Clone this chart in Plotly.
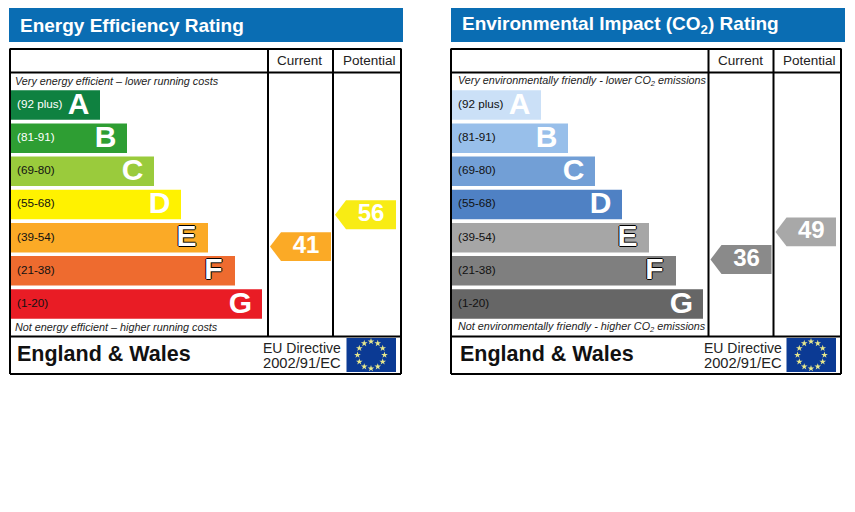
import math
import plotly.graph_objects as go

bands = ["A", "B", "C", "D", "E", "F", "G"]
ranges = ["(92 plus)", "(81-91)", "(69-80)", "(55-68)", "(39-54)", "(21-38)", "(1-20)"]
bar_lengths = [89, 116, 143, 170, 197, 224, 251]

energy_colors = ["#0f8140", "#2e9e33", "#9acb3c", "#fff200", "#fbaa26", "#ee6b2f", "#e91c25"]
energy_label_colors = ["white", "white", "#111", "#111", "#111", "#111", "#111"]
energy_current = 41
energy_potential = 56
energy_current_color = "#fbaa26"
energy_potential_color = "#f8ec14"

env_colors = ["#cbe0f7", "#98bfea", "#729fd6", "#4f81c4", "#a6a6a6", "#7f7f7f", "#666666"]
env_label_colors = ["#111"] * 7
env_current = 36
env_potential = 49
env_current_color = "#8a8a8a"
env_potential_color = "#a8a8a8"

FONT = "Liberation Sans"
fig = go.Figure()
shapes = []
notes = []


def note(x, y, text, size, color="black", anchor="left", bold=False, italic=False):
    if bold:
        text = "<b>" + text + "</b>"
    if italic:
        text = "<i>" + text + "</i>"
    notes.append(dict(x=x, y=y, xref="x", yref="y", text=text, showarrow=False, xanchor=anchor,
                      yanchor="middle", font=dict(family=FONT, size=size, color=color)))


def arrow(col_left, col_right, rating, color, axis):
    tip = col_left + 2
    head = tip + 11
    h = 6.8
    fig.add_trace(go.Scatter(x=[tip, head, col_right, col_right, head, tip],
                             y=[rating, rating + h, rating + h, rating - h, rating - h, rating],
                             yaxis=axis, mode="lines", fill="toself", fillcolor=color,
                             line=dict(width=0), showlegend=False, hoverinfo="skip"))
    fig.add_trace(go.Scatter(x=[(head + col_right) / 2], y=[rating], yaxis=axis, mode="text",
                             text=[str(rating)], textposition="middle center", showlegend=False,
                             textfont=dict(family=FONT, size=24, color="white", weight="bold"),
                             hoverinfo="skip"))


def panel(left, right, col1, col2, banner_left, inset, title, top_note, bottom_note, colors, label_colors,
          current, potential, current_color, potential_color, axis):
    # banner
    shapes.append(dict(type="rect", x0=banner_left, x1=banner_left + 394, y0=8, y1=42,
                       fillcolor="#0a6db3", line_width=0, layer="below"))
    note(banner_left + 9, 25, title, 19, "white", bold=True)

    # table lines
    line = dict(color="black", width=2)
    for x in [left, right]:
        shapes.append(dict(type="line", x0=x, x1=x, y0=48.5, y1=374, line=line, layer="below"))
    for y in [49, 72.5, 336.5, 374]:
        shapes.append(dict(type="line", x0=left, x1=right, y0=y, y1=y, line=line, layer="below"))
    for x in [col1, col2]:
        shapes.append(dict(type="line", x0=x, x1=x, y0=49, y1=336.5, line=line, layer="below"))

    note(col1 + 31.5, 60, "Current", 13.5, "#222", anchor="center")
    note(col2 + 36, 60, "Potential", 13.5, "#222", anchor="center")
    note(left + inset, 81, top_note, 10.8, "#222", italic=True)
    note(left + inset, 327, bottom_note, 10.8, "#222", italic=True)

    # bands
    ys = [105 + 33.17 * i for i in range(len(bands))]
    fig.add_trace(go.Bar(y=ys, x=bar_lengths, base=left + 1, orientation="h", width=29.5,
                         marker=dict(color=colors, line_width=0), showlegend=False, hoverinfo="skip"))
    fig.add_trace(go.Scatter(x=[left + 7] * 7, y=ys, mode="text", text=ranges,
                             textposition="middle right", showlegend=False, hoverinfo="skip",
                             textfont=dict(family=FONT, size=11.7, color=label_colors)))
    for i, letter in enumerate(bands):
        font = dict(family=FONT, size=30, color="white", weight="bold")
        if letter in ["E", "F"]:
            font["shadow"] = "1px 0 #000, -1px 0 #000, 0 1px #000, 0 -1px #000"
        fig.add_trace(go.Scatter(x=[left + bar_lengths[i] - 20.5], y=[ys[i] + 1], mode="text", text=[letter],
                                 textposition="middle center", textfont=font,
                                 showlegend=False, hoverinfo="skip"))

    # rating arrows
    arrow(col1, col2 - 2, current, current_color, axis)
    arrow(col2, right - 5, potential, potential_color, axis)

    # footer
    note(left + inset + 2, 354, "England & Wales", 21.5, "#111", bold=True)
    note(col1 - 7, 348, "EU Directive", 14, "#222")
    note(col1 - 7, 363, "2002/91/EC", 14.7, "#222")
    flag_left = right - 54.5
    shapes.append(dict(type="rect", x0=flag_left, x1=flag_left + 49.5, y0=338, y1=372,
                       fillcolor="#0b3a94", line_width=0, layer="below"))
    cx = flag_left + 24.5
    star_x = [cx + 13.5 * math.sin(math.radians(30 * k)) for k in range(12)]
    star_y = [355 - 13.5 * math.cos(math.radians(30 * k)) for k in range(12)]
    fig.add_trace(go.Scatter(x=star_x, y=star_y, mode="markers", showlegend=False, hoverinfo="skip",
                             marker=dict(symbol="star", size=5, color="#e8e88c", line_width=0)))


panel(10, 401, 268, 333, 9, 3, "Energy Efficiency Rating",
      "Very energy efficient – lower running costs", "Not energy efficient – higher running costs",
      energy_colors, energy_label_colors, energy_current, energy_potential,
      energy_current_color, energy_potential_color, "y2")
panel(451, 841, 708.5, 773.5, 451, 5, "Environmental Impact (CO<sub>2</sub>) Rating",
      "Very environmentally friendly - lower CO<sub>2</sub> emissions",
      "Not environmentally friendly - higher CO<sub>2</sub> emissions",
      env_colors, env_label_colors, env_current, env_potential,
      env_current_color, env_potential_color, "y3")

fig.update_layout(
    width=855, height=512,
    margin=dict(l=0, r=0, t=0, b=0),
    paper_bgcolor="white", plot_bgcolor="white",
    barmode="overlay",
    shapes=shapes, annotations=notes,
    xaxis=dict(range=[0, 855], visible=False, fixedrange=True),
    yaxis=dict(range=[512, 0], visible=False, fixedrange=True),
    # rating scales, about 2.12 px per point; the right panel sits a little lower
    yaxis2=dict(range=[-84.2, 157.3], overlaying="y", visible=False, fixedrange=True),
    yaxis3=dict(range=[-83.1, 158.4], overlaying="y", visible=False, fixedrange=True),
)
fig.write_html("out.html", config=dict(displayModeBar=False),
               post_script="document.body.style.margin='0';")
